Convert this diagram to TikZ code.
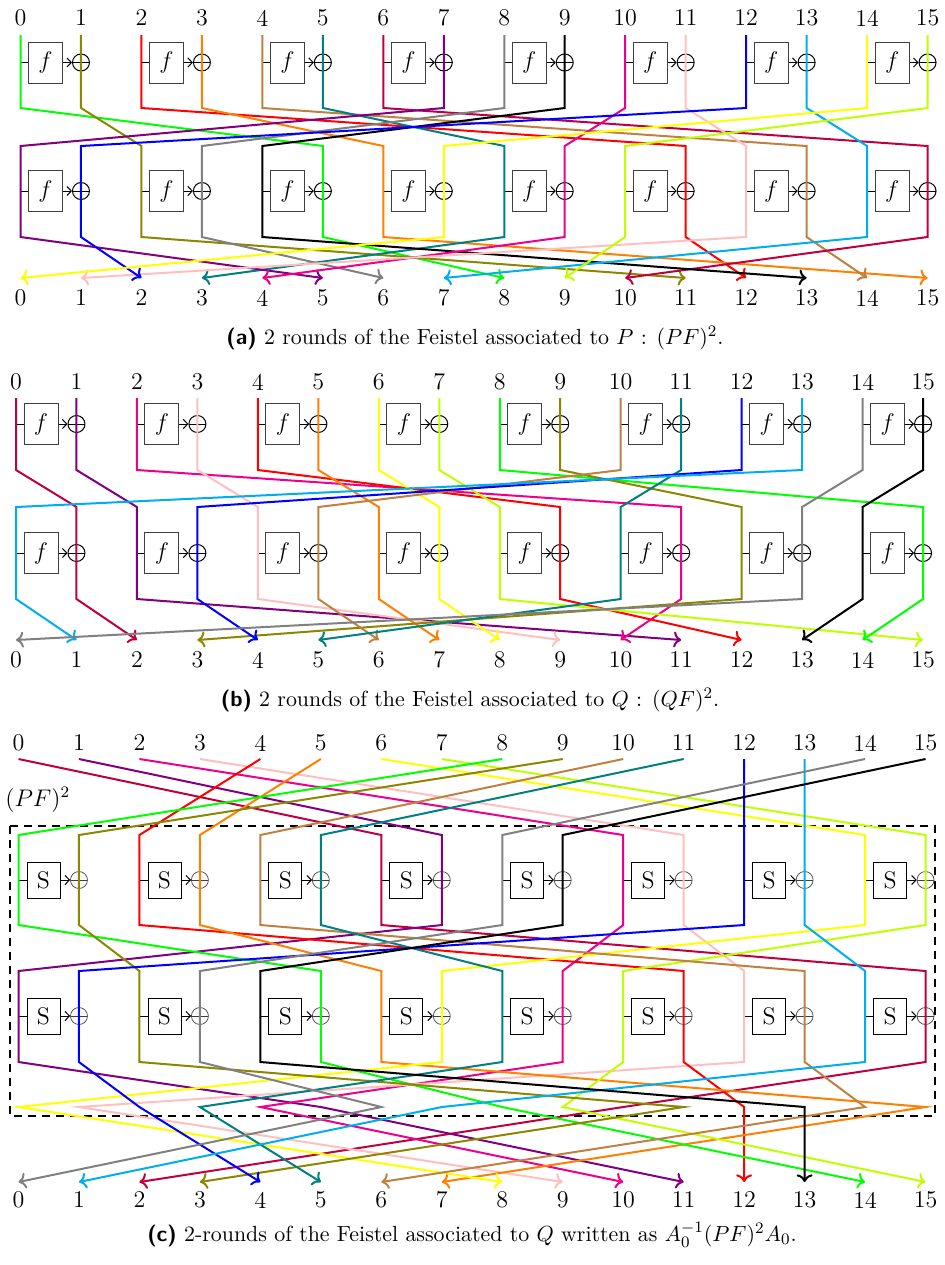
\documentclass[tikz,border=0pt]{standalone}
\usepackage{fontspec}
\usepackage{amsmath}
\usetikzlibrary{arrows.meta}
\definecolor{cG}{RGB}{0,255,0}
\definecolor{cO}{RGB}{140,134,0}
\definecolor{cR}{RGB}{255,0,0}
\definecolor{cOr}{RGB}{255,128,0}
\definecolor{cBr}{RGB}{191,128,64}
\definecolor{cT}{RGB}{0,128,128}
\definecolor{cCr}{RGB}{191,0,64}
\definecolor{cV}{RGB}{128,0,128}
\definecolor{cGy}{RGB}{128,128,128}
\definecolor{cK}{RGB}{0,0,0}
\definecolor{cM}{RGB}{236,0,140}
\definecolor{cPk}{RGB}{255,191,191}
\definecolor{cB}{RGB}{0,0,255}
\definecolor{cC}{RGB}{0,174,239}
\definecolor{cY}{RGB}{255,255,0}
\definecolor{cL}{RGB}{191,255,0}
\tikzset{
  wire/.style={line width=1pt},
  lbl/.style={font=\fontsize{12}{14}\selectfont, inner sep=0pt},
  captxt/.style={font=\fontsize{10.95}{13}\selectfont, inner sep=0pt},
  fbox/.style={draw=black!75, line width=0.5pt, minimum width=17pt, minimum height=20.5pt, inner sep=0pt, font=\fontsize{12}{14}\selectfont},
  sbox/.style={draw=black, line width=0.4pt, minimum width=16.5pt, minimum height=18pt, inner sep=0pt, font=\fontsize{12}{14}\selectfont},
  xorc/.style={circle, draw=black, line width=0.5pt, minimum size=8.5pt, inner sep=0pt,
     path picture={\draw[line width=0.5pt] (path picture bounding box.north) -- (path picture bounding box.south) (path picture bounding box.west) -- (path picture bounding box.east);}},
  xorthin/.style={circle, draw=black!75, line width=0.35pt, minimum size=8.5pt, inner sep=0pt,
     path picture={\draw[line width=0.35pt,black!75] (path picture bounding box.north) -- (path picture bounding box.south) (path picture bounding box.west) -- (path picture bounding box.east);}},
  feedline/.style={line width=0.5pt, black},
  feedarrow/.style={line width=0.5pt, black, -{Straight Barb[length=2.2pt,width=4.6pt,line width=0.5pt]}},
}
\newcommand\mklevel[3]{%
  \foreach \i in {0,...,15}{\coordinate (#1-\i) at ({#2+\i*60.47},#3);}}
% #1 prefix, #2 x0, #3 y, #4 content, #5 box style, #6 xor style
\newcommand\feistelrow[6]{%
  \foreach \k in {0,...,7}{%
    \pgfmathsetmacro\xl{#2+2*\k*60.47}%
    \pgfmathsetmacro\xr{#2+(2*\k+1)*60.47}%
    \node[#5] (#1b\k) at ({\xl+25},#3) {#4};
    \node[#6] (#1x\k) at (\xr,#3) {};
    \coordinate (#1t\k) at (\xl,#3);
    \draw[feedline] (#1t\k) -- (#1b\k.west);
    \draw[feedarrow] (#1b\k.east) -- (#1x\k.west);
  }}
\newcommand\labels[4]{% prefix, x0, ytop, ybot
  \foreach \i in {0,...,15}{%
    \node[lbl] (#1t\i) at ({#2+\i*60.47},#3) {\i};
    \node[lbl] (#1d\i) at ({#2+\i*60.47},#4) {\i};
  }}
\begin{document}
\begin{tikzpicture}[x=0.5pt,y=-0.5pt]
\useasboundingbox (0,0) rectangle (945,1265);
% ================= panel (a)
\labels{la}{20.5}{18}{298}
\feistelrow{ra}{20.5}{62.5}{$f$}{fbox}{xorc}
\feistelrow{sa}{20.5}{191}{$f$}{fbox}{xorc}
\mklevel{a0}{20.5}{35}
\mklevel{a1}{20.5}{108}
\mklevel{a2}{20.5}{146}
\mklevel{a3}{20.5}{237}
\mklevel{a4}{20.5}{278}
\foreach \i/\c/\p/\q in {0/cG/5/8,1/cO/2/11,2/cR/11/12,3/cOr/6/15,4/cBr/13/14,5/cT/8/3,6/cCr/15/10,7/cV/0/5,8/cGy/3/6,9/cK/4/13,10/cM/9/4,11/cPk/12/1,12/cB/1/2,13/cC/14/7,14/cY/7/0,15/cL/10/9}{
  \draw[wire,\c,->] (a0-\i) -- (a1-\i) -- (a2-\p) -- (a3-\p) -- (a4-\q);
}
\node[captxt] (capa) at (475,338) {\textsf{\textbf{(a)}} 2 rounds of the Feistel associated to $P$ : $(PF)^2$.};
% ================= panel (b)
\labels{lb}{16}{382}{660}
\feistelrow{rb}{16}{424}{$f$}{fbox}{xorc}
\feistelrow{sb}{16}{553}{$f$}{fbox}{xorc}
\mklevel{b0}{16}{398}
\mklevel{b1}{16}{470}
\mklevel{b2}{16}{507}
\mklevel{b3}{16}{599}
\mklevel{b4}{16}{640}
\foreach \i/\c/\p/\q in {0/cCr/1/2,1/cV/2/11,2/cM/11/10,3/cPk/4/9,4/cR/9/12,5/cOr/6/7,6/cY/7/8,7/cL/8/15,8/cG/15/14,9/cO/12/3,10/cBr/5/6,11/cT/10/5,12/cB/3/4,13/cC/0/1,14/cGy/13/0,15/cK/14/13}{
  \draw[wire,\c,->] (b0-\i) -- (b1-\i) -- (b2-\p) -- (b3-\p) -- (b4-\q);
}
\node[captxt] (capb) at (470,700) {\textsf{\textbf{(b)}} 2 rounds of the Feistel associated to $Q$ : $(QF)^2$.};
% ================= panel (c)
\labels{lc}{18.5}{743}{1200}
\coordinate (dbtl) at (10,826);
\coordinate (dbbr) at (935,1116);
\draw[line width=1pt, dash pattern=on 4pt off 3pt] (dbtl) rectangle (dbbr);
\node[lbl, anchor=west] (pf2) at (5,800) {$(PF)^2$};
\feistelrow{rc}{18.5}{880}{S}{sbox}{xorthin}
\feistelrow{sc}{18.5}{1016}{S}{sbox}{xorthin}
\mklevel{c0}{18.5}{759}
\mklevel{c1}{18.5}{835}
\mklevel{c2}{18.5}{925}
\mklevel{c3}{18.5}{971}
\mklevel{c4}{18.5}{1062}
\mklevel{c5}{18.5}{1107}
\mklevel{c6}{18.5}{1182}
\foreach \i/\c/\a/\p/\q/\f in {0/cCr/6/15/10/2,1/cV/7/0/5/11,2/cM/10/9/4/10,3/cPk/11/12/1/9,4/cR/2/11/12/12,5/cOr/3/6/15/7,6/cY/14/7/0/8,7/cL/15/10/9/15,8/cG/0/5/8/14,9/cO/1/2/11/3,10/cBr/4/13/14/6,11/cT/5/8/3/5,12/cB/12/1/2/4,13/cC/13/14/7/1,14/cGy/8/3/6/0,15/cK/9/4/13/13}{
  \draw[wire,\c,->] (c0-\i) -- (c1-\a) -- (c2-\a) -- (c3-\p) -- (c4-\p) -- (c5-\q) -- (c6-\f);
}
\node[captxt] (capc) at (472,1235) {\textsf{\textbf{(c)}} 2-rounds of the Feistel associated to $Q$ written as $A_0^{-1}(PF)^2A_0$.};
\end{tikzpicture}
\end{document}
